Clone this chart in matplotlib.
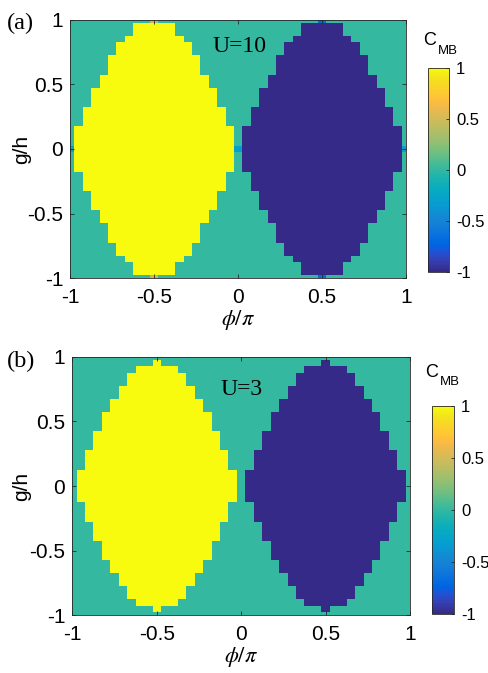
import numpy as np
import matplotlib
matplotlib.use("Agg")
import matplotlib.pyplot as plt
from matplotlib.colors import LinearSegmentedColormap

plt.rcParams['axes.unicode_minus'] = False
plt.rcParams['mathtext.fontset'] = 'stix'

# MATLAB parula (64 entries)
PARULA = [
    (0.2081, 0.1663, 0.5292), (0.2116, 0.1898, 0.5777), (0.2123, 0.2138, 0.6270),
    (0.2081, 0.2386, 0.6771), (0.1959, 0.2645, 0.7279), (0.1707, 0.2919, 0.7792),
    (0.1253, 0.3242, 0.8303), (0.0591, 0.3598, 0.8683), (0.0117, 0.3875, 0.8820),
    (0.0060, 0.4086, 0.8828), (0.0165, 0.4266, 0.8786), (0.0329, 0.4430, 0.8720),
    (0.0498, 0.4586, 0.8641), (0.0629, 0.4737, 0.8554), (0.0723, 0.4887, 0.8467),
    (0.0779, 0.5040, 0.8384), (0.0793, 0.5200, 0.8312), (0.0749, 0.5375, 0.8263),
    (0.0641, 0.5570, 0.8240), (0.0488, 0.5772, 0.8228), (0.0343, 0.5966, 0.8199),
    (0.0265, 0.6137, 0.8135), (0.0239, 0.6287, 0.8038), (0.0231, 0.6418, 0.7913),
    (0.0228, 0.6535, 0.7768), (0.0267, 0.6642, 0.7607), (0.0384, 0.6743, 0.7436),
    (0.0590, 0.6838, 0.7254), (0.0843, 0.6928, 0.7062), (0.1133, 0.7015, 0.6859),
    (0.1453, 0.7098, 0.6646), (0.1801, 0.7177, 0.6424), (0.2178, 0.7250, 0.6193),
    (0.2586, 0.7317, 0.5954), (0.3022, 0.7376, 0.5712), (0.3482, 0.7424, 0.5473),
    (0.3953, 0.7459, 0.5244), (0.4420, 0.7481, 0.5033), (0.4871, 0.7491, 0.4840),
    (0.5300, 0.7491, 0.4661), (0.5709, 0.7485, 0.4494), (0.6099, 0.7473, 0.4337),
    (0.6473, 0.7456, 0.4188), (0.6834, 0.7435, 0.4044), (0.7184, 0.7411, 0.3905),
    (0.7525, 0.7384, 0.3768), (0.7858, 0.7356, 0.3633), (0.8185, 0.7327, 0.3498),
    (0.8507, 0.7299, 0.3360), (0.8824, 0.7274, 0.3217), (0.9139, 0.7258, 0.3063),
    (0.9450, 0.7261, 0.2886), (0.9739, 0.7314, 0.2666), (0.9938, 0.7455, 0.2403),
    (0.9990, 0.7653, 0.2164), (0.9955, 0.7861, 0.1967), (0.9880, 0.8066, 0.1794),
    (0.9789, 0.8271, 0.1633), (0.9697, 0.8481, 0.1475), (0.9626, 0.8705, 0.1309),
    (0.9589, 0.8949, 0.1132), (0.9598, 0.9218, 0.0948), (0.9661, 0.9514, 0.0755),
    (0.9763, 0.9831, 0.0538)]
parula = LinearSegmentedColormap.from_list("parula", PARULA, N=256)

# grid: phi/pi and g/h, step 0.05
phi = np.round(np.linspace(-1, 1, 41), 3)
gh = np.round(np.linspace(-1, 1, 41), 3)

# columns covered by the C=+1 lobe and the C=-1 lobe
yellow_phi = [-0.95, -0.9, -0.85, -0.8, -0.75, -0.7, -0.65, -0.6, -0.55, -0.5,
              -0.45, -0.4, -0.35, -0.3, -0.25, -0.2, -0.15, -0.1, -0.05]
blue_phi = [0.05, 0.1, 0.15, 0.2, 0.25, 0.3, 0.35, 0.4, 0.45, 0.5,
            0.55, 0.6, 0.65, 0.7, 0.75, 0.8, 0.85, 0.9, 0.95]

# largest |g/h| inside the lobe, for each column
height_a = [0.15, 0.3, 0.45, 0.55, 0.7, 0.8, 0.85, 0.95, 0.95, 0.95,
            0.95, 0.95, 0.85, 0.8, 0.7, 0.55, 0.45, 0.3, 0.15]
height_b = [0.1, 0.25, 0.4, 0.55, 0.65, 0.75, 0.85, 0.9, 0.9, 0.95,
            0.9, 0.9, 0.85, 0.75, 0.65, 0.55, 0.4, 0.25, 0.1]

# single cells that are neither 0 nor +-1: (phi, g, C)
extra_a = [(-0.5, 1.0, 0.4), (-0.5, -1.0, 0.4), (0.5, 1.0, -0.7), (0.5, -1.0, -0.7),
           (-1.0, 0.0, -0.3), (0.0, 0.0, -0.3), (1.0, 0.0, -0.3)]
extra_b = []

labels = ["(a)", "(b)"]
u_text = ["U=10", "U=3"]


def build(heights, extras):
    C = np.zeros((len(gh), len(phi)))
    for p, h in zip(yellow_phi, heights):
        j = np.argmin(np.abs(phi - p))
        C[np.abs(gh) <= h + 1e-9, j] = 1
    for p, h in zip(blue_phi, heights):
        j = np.argmin(np.abs(phi - p))
        C[np.abs(gh) <= h + 1e-9, j] = -1
    for p, g, v in extras:
        C[np.argmin(np.abs(gh - g)), np.argmin(np.abs(phi - p))] = v
    return C


W, H = 488, 673
fig = plt.figure(figsize=(W / 100, H / 100), dpi=100)

# pixel boxes: axes (left, top, right, bottom), colorbar (left, top, right, bottom)
ax_px = [(70.3, 19.7, 406.0, 278.3), (72.3, 356.7, 410.0, 615.3)]
cb_px = [(428.3, 67.7, 449.3, 271.7), (431.7, 406.0, 454.0, 614.0)]
lab_px = [(7.3, 29.0), (6.7, 367.0)]
u_px = [(212.7, 51.7), (220.0, 395.0)]
c_px = [(423.0, 45.0), (425.0, 376.7)]

data = [build(height_a, extra_a), build(height_b, extra_b)]
ticks = [-1, -0.5, 0, 0.5, 1]
ticklabels = ["-1", "-0.5", "0", "0.5", "1"]
sans = "Liberation Sans"
serif = "Liberation Serif"
edge = "#262626"

for k in range(2):
    l, t, r, b = ax_px[k]
    ax = fig.add_axes([l / W, 1 - b / H, (r - l) / W, (b - t) / H])
    mesh = ax.pcolormesh(phi, gh, data[k], cmap=parula, vmin=-1, vmax=1, shading="nearest")
    ax.set_xlim(-1, 1)
    ax.set_ylim(-1, 1)
    ax.set_xticks(ticks)
    ax.set_yticks(ticks)
    ax.set_xticklabels(ticklabels, fontfamily=sans, fontsize=15)
    ax.set_yticklabels(ticklabels, fontfamily=sans, fontsize=15)
    ax.tick_params(direction="in", length=3, width=0.6, color=edge, top=True, right=True)
    ax.tick_params(axis="x", pad=7)
    ax.tick_params(axis="y", pad=5)
    for s in ax.spines.values():
        s.set_color(edge)
        s.set_linewidth(0.6)
    ax.set_xlabel(r"$\phi/\pi$", fontsize=16, labelpad=1)
    fig.text(22 / W, 1 - ((t + b) / 2) / H, "g/h", rotation=90, ha="center", va="center",
             fontfamily=sans, fontsize=15)
    fig.text(lab_px[k][0] / W, 1 - lab_px[k][1] / H, labels[k], fontfamily=serif,
             fontsize=17.5, ha="left", va="baseline")
    fig.text(u_px[k][0] / W, 1 - u_px[k][1] / H, u_text[k], fontfamily=serif,
             fontsize=17, ha="left", va="baseline")

    cl, ct, cr, cbt = cb_px[k]
    cax = fig.add_axes([cl / W, 1 - cbt / H, (cr - cl) / W, (cbt - ct) / H])
    cb = fig.colorbar(mesh, cax=cax, ticks=ticks)
    cb.ax.set_yticklabels(ticklabels, fontfamily=sans, fontsize=12)
    cb.ax.tick_params(direction="in", length=2, width=0.6, color=edge, pad=5)
    cb.outline.set_edgecolor(edge)
    cb.outline.set_linewidth(0.6)
    cx, cy = c_px[k]
    fig.text(cx / W, 1 - cy / H, "C", fontfamily=sans, fontsize=13, ha="left", va="baseline")
    fig.text((cx + 15) / W, 1 - (cy + 8.5) / H, "MB", fontfamily=sans, fontsize=9.5,
             ha="left", va="baseline")

fig.savefig("out.png", dpi=100)
